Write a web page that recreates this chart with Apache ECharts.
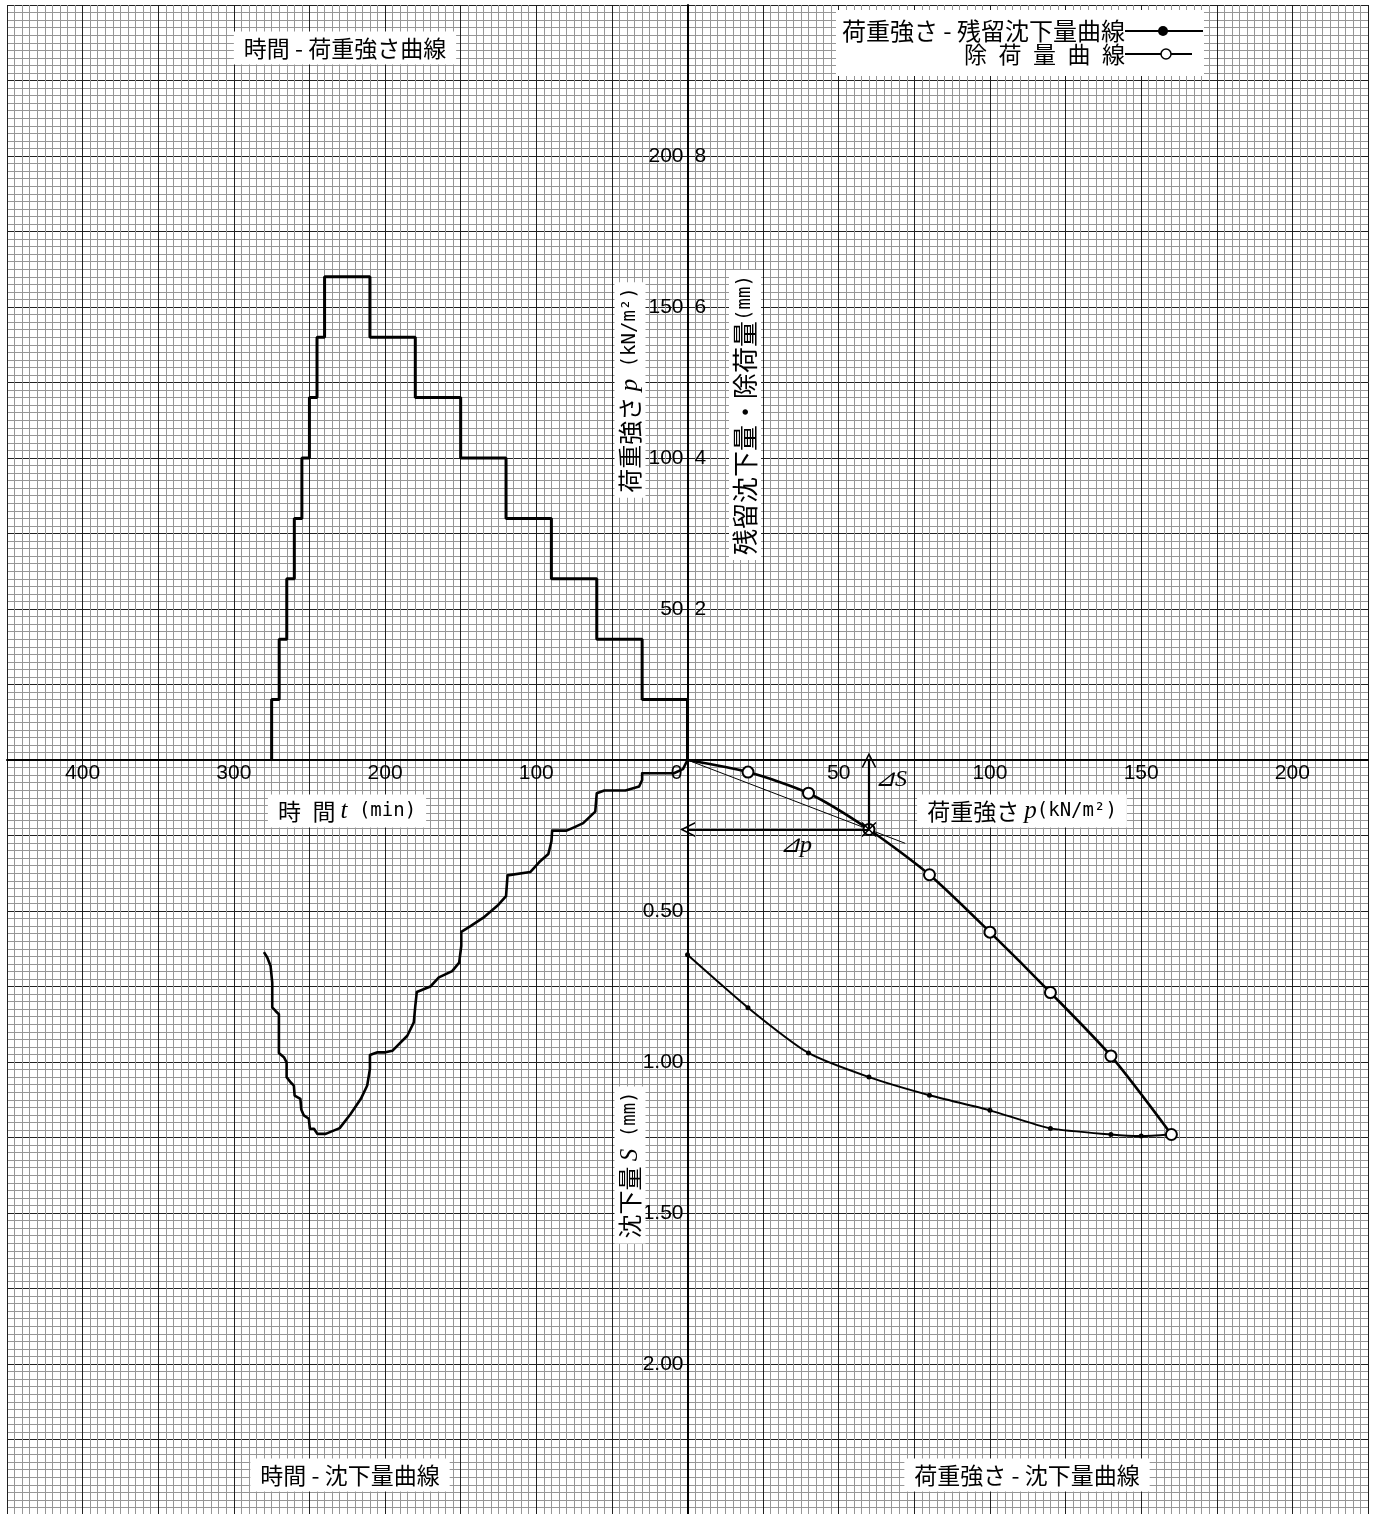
<!DOCTYPE html>
<html>
<head>
<meta charset="utf-8">
<script src="https://cdn.jsdelivr.net/npm/echarts@6/dist/echarts.min.js"></script>
<style>
html,body{margin:0;padding:0;background:#fff;}
#chart{width:1376px;height:1514px;}
</style>
</head>
<body>
<div id="chart"></div>
<script>
// 時間 - 荷重強さ : step start times (min) and load held from that time (kN/m²)
const stepTimes = [0, 30, 60, 90, 120, 150, 180, 210, 240, 245, 250, 255, 260, 265, 270, 275];
const stepLoads = [20, 40, 60, 80, 100, 120, 140, 160, 140, 120, 100, 80, 60, 40, 20, 0];

// 時間 - 沈下量 : time (min) and settlement (mm)
const settleTimes = [0, 3, 9, 30, 30, 32, 41, 55, 60, 61, 69, 75, 80, 89.5, 90, 92, 98, 104, 119, 120, 125, 135, 143.5, 149.6,
  149.6, 151, 155.6, 164.4, 170, 179, 180, 181, 185.3, 195.2, 199.7, 205, 210, 210, 211.8, 216, 222.8, 230, 239.3, 244.8,
  247, 249.7, 250.4, 253.7, 255.4, 256, 259.8, 260.3, 262.5, 265.1, 265.1, 266.9, 270.2, 270.2, 272.4, 274.6, 274.6, 275.7, 277.9, 280.1];
const settleValues = [0, 0.03, 0.044, 0.044, 0.066, 0.088, 0.101, 0.101, 0.11, 0.171, 0.209, 0.223, 0.234, 0.234, 0.27, 0.311, 0.338, 0.371, 0.382, 0.451, 0.479, 0.522, 0.55, 0.569,
  0.616, 0.671, 0.699, 0.72, 0.75, 0.768, 0.814, 0.869, 0.913, 0.963, 0.968, 0.968, 0.977, 1.023, 1.078, 1.122, 1.172, 1.219, 1.238, 1.238,
  1.221, 1.221, 1.188, 1.177, 1.157, 1.122, 1.111, 1.078, 1.067, 1.05, 1.001, 0.984, 0.97, 0.842, 0.831, 0.819, 0.737, 0.682, 0.654, 0.636];

// 荷重強さ - 沈下量 : loading branch
const loadP = [0, 20, 40, 60, 80, 100, 120, 140, 160];
const loadS = [0, 0.04, 0.11, 0.23, 0.38, 0.57, 0.77, 0.98, 1.24];
// unloading branch
const unloadP = [160, 150, 140, 120, 100, 80, 60, 40, 20, 0];
const unloadS = [1.24, 1.245, 1.24, 1.22, 1.16, 1.11, 1.05, 0.97, 0.82, 0.645];

// tangent at the 60 kN/m² point and the ⊿p / ⊿S construction
const tangentP = [0, 72];
const tangentS = [0, 0.276];
const deltaPoint = [60, 0.23];

// tick labels
const timeTicks = [400, 300, 200, 100, 0];
const loadTicks = [50, 100, 150, 200];
const pTicks = [50, 100, 150, 200];
const residualTicks = [2, 4, 6, 8];
const settleTicks = ['0.50', '1.00', '1.50', '2.00'];

// chart units: 1 unit = 1 kN/m² = 2 min = 0.01 mm (settlement) = 0.04 mm (residual)
const tx = t => -t / 2;
const sy = s => -s * 100;
const ry = r => r * 25;

const JP = '"Noto Sans CJK JP", "Noto Sans", sans-serif';
const NUM = '"Liberation Sans", Arial, sans-serif';
const SERIF = '"Liberation Serif", "DejaVu Serif", serif';
const MONO = '"DejaVu Sans Mono", "Liberation Mono", monospace';

const stepData = [];
for (let i = 0; i < stepTimes.length; i++) {
  stepData.push([tx(stepTimes[i]), i === 0 ? 0 : stepLoads[i - 1]]);
  stepData.push([tx(stepTimes[i]), stepLoads[i]]);
}
const settleData = settleTimes.map((t, i) => [tx(t), sy(settleValues[i])]);
const loadData = loadP.map((p, i) => ({ value: [p, sy(loadS[i])], symbol: p === 0 ? 'none' : 'emptyCircle' }));
const unloadData = unloadP.map((p, i) => ({ value: [p, sy(unloadS[i])], symbol: p === 160 ? 'none' : 'circle' }));
const tangentData = tangentP.map((p, i) => [p, sy(tangentS[i])]);
const dP = deltaPoint[0], dS = sy(deltaPoint[1]);

// tick label points placed on the axes
const xTickData = timeTicks.map(t => ({
  value: [tx(t), 0], name: String(t),
  label: t === 0 ? { offset: [-11, 0] } : undefined
})).concat(loadTicks.map(p => ({ value: [p, 0], name: String(p) })));
const yLeftData = pTicks.map(p => ({ value: [0, p], name: String(p) }))
  .concat(settleTicks.map(s => ({ value: [0, sy(parseFloat(s))], name: s })));
const yRightData = residualTicks.map(r => ({ value: [0, ry(r)], name: String(r) }));

function gridAxis(min, max, interval, color) {
  return {
    type: 'value', min: min, max: max, interval: interval,
    axisLine: { show: false, onZero: false }, axisTick: { show: false }, axisLabel: { show: false },
    splitLine: { show: true, lineStyle: { color: color, width: 1 } }
  };
}

const chart = echarts.init(document.getElementById('chart'), null, { renderer: 'canvas' });

const chevron = 'path://M0,0 L6.5,12 L5,12 L0,2.8 L-5,12 L-6.5,12 Z';

const richStyles = {
  it: { fontFamily: SERIF, fontStyle: 'italic', fontSize: 25 },
  jp: { fontFamily: JP, fontSize: 23 },
  jv: { fontFamily: JP, fontSize: 24 },
  jw: { fontFamily: JP, fontSize: 26 },
  mono: { fontFamily: MONO, fontSize: 19 }
};

const boxText = (text, x, y) => ({
  type: 'text', x: x, y: y, z: 100,
  style: {
    text: text, font: '23px ' + JP, fill: '#000', align: 'center', verticalAlign: 'middle',
    backgroundColor: '#fff', padding: [5, 10, 5, 10]
  }
});
const richBox = (text, x, y, rot, pad) => ({
  type: 'text', x: x, y: y, rotation: rot || 0, z: 100,
  style: {
    text: text, align: 'center', verticalAlign: 'middle', fill: '#000',
    backgroundColor: '#fff', padding: pad || [4, 10, 4, 10], rich: richStyles
  }
});

const tickSeries = (data, position, distance) => ({
  type: 'scatter', xAxisIndex: 2, yAxisIndex: 2, data: data, symbolSize: 0, silent: true,
  itemStyle: { opacity: 1, color: '#000' }, z: 20,
  label: {
    show: true, position: position, distance: distance, formatter: '{b}',
    fontFamily: NUM, fontSize: 21, color: '#000', opacity: 1
  }
});

chart.setOption({
  animation: false,
  backgroundColor: '#fff',
  grid: { left: 7, top: 5, width: 1361, height: 1510, containLabel: false, outerBoundsMode: 'none', show: false },
  xAxis: [
    gridAxis(-225, 225, 2.5, '#969696'),
    gridAxis(-225, 225, 25, '#202020'),
    {
      type: 'value', min: -225, max: 225, interval: 25,
      axisLine: { show: true, onZero: true, onZeroAxisIndex: 2, lineStyle: { color: '#000', width: 2 } },
      axisTick: { show: false }, axisLabel: { show: false }, splitLine: { show: false }
    }
  ],
  yAxis: [
    gridAxis(-250, 250, 2.5, '#969696'),
    gridAxis(-250, 250, 25, '#202020'),
    {
      type: 'value', min: -250, max: 250, interval: 25,
      axisLine: { show: true, onZero: true, onZeroAxisIndex: 2, lineStyle: { color: '#000', width: 2 } },
      axisTick: { show: false }, axisLabel: { show: false }, splitLine: { show: false }
    }
  ],
  series: [
    {
      name: '時間 - 荷重強さ曲線', type: 'line', xAxisIndex: 2, yAxisIndex: 2, data: stepData,
      symbol: 'none', lineStyle: { color: '#000', width: 3 }, z: 10
    },
    {
      name: '時間 - 沈下量曲線', type: 'line', xAxisIndex: 2, yAxisIndex: 2, data: settleData,
      symbol: 'none', lineStyle: { color: '#000', width: 2.6, join: 'round' }, z: 10
    },
    {
      name: '荷重強さ - 沈下量曲線', type: 'line', xAxisIndex: 2, yAxisIndex: 2, data: loadData,
      smooth: 0.25, symbolSize: 11, lineStyle: { color: '#000', width: 2.6 },
      itemStyle: { color: '#000', borderColor: '#000', borderWidth: 2.4 }, z: 11
    },
    {
      name: '除荷', type: 'line', xAxisIndex: 2, yAxisIndex: 2, data: unloadData,
      smooth: 0.2, symbolSize: 5, lineStyle: { color: '#000', width: 1.9 },
      itemStyle: { color: '#000' }, z: 11
    },
    {
      name: '接線', type: 'line', xAxisIndex: 2, yAxisIndex: 2, data: tangentData,
      symbol: 'none', lineStyle: { color: '#000', width: 1 }, z: 11
    },
    {
      name: '⊿', type: 'lines', coordinateSystem: 'cartesian2d', xAxisIndex: 2, yAxisIndex: 2,
      symbol: ['none', chevron], symbolSize: [0, 15],
      lineStyle: { color: '#000', width: 2.2, opacity: 1 }, z: 12,
      data: [
        { coords: [[dP, dS], [dP, 0]] },
        { coords: [[dP, dS], [0, dS]] }
      ]
    },
    {
      name: '⊿mark', type: 'scatter', xAxisIndex: 2, yAxisIndex: 2,
      data: [[dP, dS]], symbol: 'path://M-1,-1 L1,1 M1,-1 L-1,1', symbolSize: 14,
      itemStyle: { color: 'none', borderColor: '#000', borderWidth: 1.5, opacity: 1 }, z: 12
    },
    // axis tick labels
    tickSeries(xTickData, 'bottom', 3),
    tickSeries(yLeftData, 'left', 4),
    tickSeries(yRightData, 'right', 7)
  ],
  graphic: [
    // quadrant titles
    boxText('時間 - 荷重強さ曲線', 345, 48),
    boxText('時間 - 沈下量曲線', 350, 1475),
    boxText('荷重強さ - 沈下量曲線', 1027, 1475),
    // axis titles
    richBox('{jp|時\u2002間 }{it|t}{mono| (min)}', 347, 811),
    richBox('{jp|荷重強さ }{it|p}{mono|(kN/m²)}', 1022, 811),
    richBox('{jv|荷重強さ }{it|p}{mono| (kN/m²)}', 630, 390, Math.PI / 2, [3, 5, 3, 5]),
    richBox('{jw|残留沈下量・除荷量}{mono|(mm)}', 745, 415, Math.PI / 2, [3, 5, 3, 5]),
    richBox('{jv|沈下量 }{it|S}{mono| (mm)}', 630, 1165, Math.PI / 2, [3, 5, 3, 5]),
    // ⊿S / ⊿p
    {
      type: 'text', x: 875, y: 780, z: 100,
      style: { text: '⊿S', font: 'italic 24px ' + SERIF, fill: '#000', align: 'left', verticalAlign: 'middle' }
    },
    {
      type: 'text', x: 780, y: 846, z: 100,
      style: { text: '⊿p', font: 'italic 24px ' + SERIF, fill: '#000', align: 'left', verticalAlign: 'middle' }
    },
    // legend
    { type: 'rect', shape: { x: 836, y: 10, width: 368, height: 66 }, style: { fill: '#fff' }, z: 100 },
    {
      type: 'text', x: 1125, y: 31, z: 101,
      style: { text: '荷重強さ - 残留沈下量曲線', font: '24px ' + JP, fill: '#000', align: 'right', verticalAlign: 'middle' }
    },
    { type: 'line', shape: { x1: 1125, y1: 31, x2: 1203, y2: 31 }, style: { stroke: '#000', lineWidth: 2.2 }, z: 101 },
    { type: 'circle', shape: { cx: 1163, cy: 31, r: 5 }, style: { fill: '#000' }, z: 102 },
    {
      type: 'text', x: 1125, y: 54, z: 101,
      style: { text: '除\u2002荷\u2002量\u2002曲\u2002線', font: '23px ' + JP, fill: '#000', align: 'right', verticalAlign: 'middle' }
    },
    { type: 'line', shape: { x1: 1125, y1: 54, x2: 1192, y2: 54 }, style: { stroke: '#000', lineWidth: 2.2 }, z: 101 },
    { type: 'circle', shape: { cx: 1166, cy: 54, r: 5 }, style: { fill: '#fff', stroke: '#000', lineWidth: 1.5 }, z: 102 }
  ]
});
</script>
</body>
</html>
